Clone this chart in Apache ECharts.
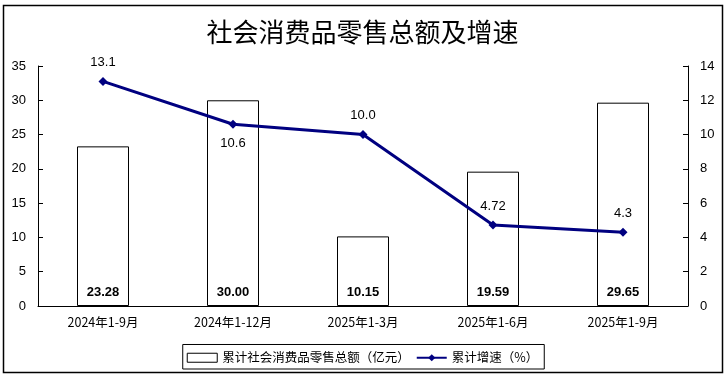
<!DOCTYPE html>
<html><head><meta charset="utf-8">
<script src="https://cdn.jsdelivr.net/npm/echarts@6/dist/echarts.min.js"></script>
<style>html,body{margin:0;padding:0;background:#fff}#c{width:725px;height:379px}</style>
</head><body><div id="c"></div>
<script>
var categories = ['2024年1-9月','2024年1-12月','2025年1-3月','2025年1-6月','2025年1-9月'];
var totalSales = [23.28, 30.00, 10.15, 19.59, 29.65];
var growthRate = [13.1, 10.6, 10.0, 4.72, 4.3];
var growthLabels = ['13.1','10.6','10.0','4.72','4.3'];
var growthLabelPos = ['top','bottom','top','top','top'];
var leftTicks = [0,5,10,15,20,25,30,35];
var rightTicks = [0,2,4,6,8,10,12,14];

var chart = echarts.init(document.getElementById('c'));
var cjk = '"Noto Sans CJK SC", sans-serif';
var num = '"Liberation Sans", Arial, sans-serif';
chart.setOption({
  animation: false,
  title: {
    text: '社会消费品零售总额及增速', left: 'center', top: 14,
    textStyle: {fontFamily: cjk, fontSize: 26, fontWeight: 'normal', color: '#000'}
  },
  graphic: [{type: 'rect', shape: {x: 3.5, y: 5.5, width: 719, height: 367}, style: {fill: 'none', stroke: '#000', lineWidth: 1.5}, z: -1}],
  legend: {
    bottom: 10, left: 'center',
    borderColor: '#000', borderWidth: 1, padding: [7, 6, 5, 4],
    itemWidth: 30, itemHeight: 9, itemGap: 6,
    textStyle: {fontFamily: cjk, fontSize: 12.5, color: '#000'},
    data: [
      {name: '累计社会消费品零售总额（亿元）', icon: 'rect', itemStyle: {color: '#fff', borderColor: '#000', borderWidth: 1}},
      {name: '累计增速（%）'}
    ]
  },
  grid: {left: 38, right: 37, top: 66, bottom: 73},
  xAxis: {
    type: 'category', data: categories,
    axisLine: {lineStyle: {color: '#000'}}, axisTick: {show: false},
    axisLabel: {fontFamily: cjk, fontSize: 12.5, color: '#000', margin: 10}
  },
  yAxis: [
    {type: 'value', min: 0, max: 35, interval: 5, splitLine: {show: false},
     axisLine: {show: true, lineStyle: {color: '#000'}},
     axisTick: {show: true, inside: true, length: 5, lineStyle: {color: '#000'}},
     axisLabel: {fontFamily: num, fontSize: 13, color: '#000', margin: 12}},
    {type: 'value', min: 0, max: 14, interval: 2, splitLine: {show: false},
     axisLine: {show: true, lineStyle: {color: '#000'}},
     axisTick: {show: true, inside: true, length: 5, lineStyle: {color: '#000'}},
     axisLabel: {fontFamily: num, fontSize: 13, color: '#000', margin: 12}}
  ],
  series: [
    {name: '累计社会消费品零售总额（亿元）', type: 'bar', data: totalSales, barWidth: '40%',
     itemStyle: {color: '#fff', borderColor: '#000', borderWidth: 1},
     label: {show: true, position: 'insideBottom', distance: 7, formatter: function(p){return p.value.toFixed(2);},
       fontFamily: num, fontSize: 13, fontWeight: 'bold', color: '#000'}},
    {name: '累计增速（%）', type: 'line', yAxisIndex: 1,
     data: growthRate.map(function(v, i){return {value: v, label: {position: growthLabelPos[i], formatter: growthLabels[i]}};}),
     symbol: 'diamond', symbolSize: 9,
     lineStyle: {color: '#000080', width: 3}, itemStyle: {color: '#000080'},
     label: {show: true, distance: 8, fontFamily: num, fontSize: 13, color: '#000'}}
  ]
});
</script></body></html>
